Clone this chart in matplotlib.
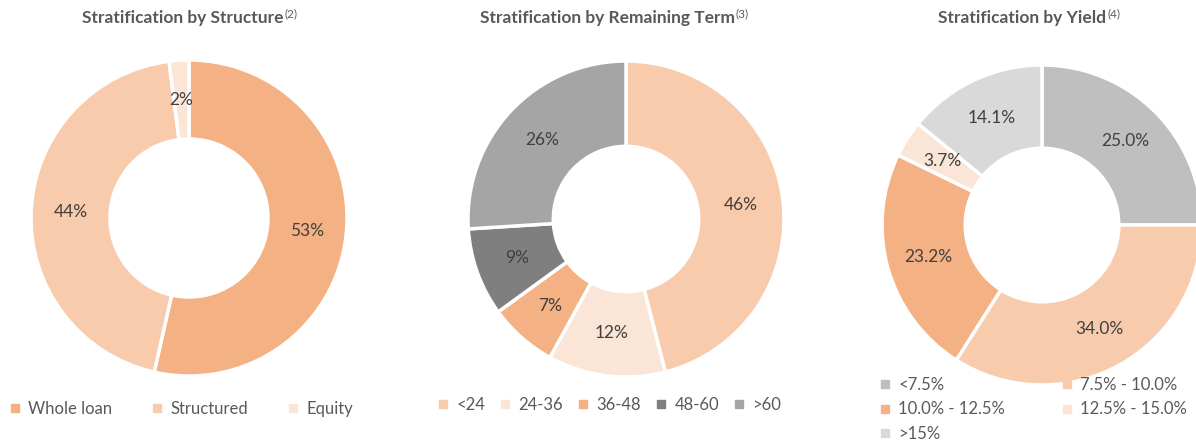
import matplotlib
matplotlib.use("Agg")
import matplotlib.pyplot as plt
from matplotlib.lines import Line2D
import numpy as np

# Data
structure_labels = ["Whole loan", "Structured", "Equity"]
structure_values = [53, 44, 2]
structure_text = ["53%", "44%", "2%"]
structure_colors = ["#F4B183", "#F8CBAD", "#FBE5D6"]

term_labels = ["<24", "24-36", "36-48", "48-60", ">60"]
term_values = [46, 12, 7, 9, 26]
term_text = ["46%", "12%", "7%", "9%", "26%"]
term_colors = ["#F8CBAD", "#FBE5D6", "#F4B183", "#7F7F7F", "#A5A5A5"]

yield_labels = ["<7.5%", "7.5% - 10.0%", "10.0% - 12.5%", "12.5% - 15.0%", ">15%"]
yield_values = [25.0, 34.0, 23.2, 3.7, 14.1]
yield_text = ["25.0%", "34.0%", "23.2%", "3.7%", "14.1%"]
yield_colors = ["#BFBFBF", "#F8CBAD", "#F4B183", "#FBE5D6", "#D9D9D9"]

W, H = 1196, 441
TXT = "#595959"
plt.rcParams['font.family'] = ['Lato', 'DejaVu Sans']

fig = plt.figure(figsize=(W / 100, H / 100), dpi=100)


def donut(cx, cy, r, values, texts, colors, hole):
    ax = fig.add_axes([(cx - r) / W, (H - cy - r) / H, 2 * r / W, 2 * r / H])
    wedges, _ = ax.pie(values, colors=colors, startangle=90, counterclock=False,
                       radius=1, wedgeprops=dict(width=1 - hole, edgecolor="white", linewidth=2.5))
    # labels at the middle of the ring
    for w, t in zip(wedges, texts):
        ang = np.deg2rad((w.theta1 + w.theta2) / 2)
        rr = (1 + hole) / 2
        ax.text(rr * np.cos(ang), rr * np.sin(ang), t, ha="center", va="center",
                fontsize=12.5, color="#404040")
    ax.set_xlim(-1, 1)
    ax.set_ylim(-1, 1)
    ax.axis("off")
    return ax


def title(cx, cy, main, sup):
    t = fig.text(cx / W, 1 - cy / H, main, ha="center", va="center",
                 fontsize=12.5, fontweight="bold", color=TXT)
    fig.canvas.draw()
    bb = t.get_window_extent(renderer=fig.canvas.get_renderer())
    fig.text(bb.x1 / W + 0.001, 1 - (cy - 4) / H, sup, ha="left", va="center",
             fontsize=8.5, color=TXT)


def legend(labels, colors, x, y, ncol, colsp, lsp=0.35, order=None):
    handles = [Line2D([], [], marker="s", linestyle="", markersize=6,
                      markerfacecolor=c, markeredgecolor=c) for c in colors]
    if order is not None:
        handles = [handles[i] for i in order]
        labels = [labels[i] for i in order]
    fig.legend(handles, labels, loc="upper left", bbox_to_anchor=(x / W, 1 - y / H),
               ncol=ncol, frameon=False, fontsize=12, labelcolor=TXT,
               handlelength=0.6, handletextpad=0.5, columnspacing=colsp,
               labelspacing=lsp, borderpad=0, borderaxespad=0)


donut(189, 218, 158, structure_values, structure_text, structure_colors, 0.5)
donut(626, 219, 158, term_values, term_text, term_colors, 0.46)
donut(1042, 225, 160, yield_values, yield_text, yield_colors, 0.48)

title(183, 18, "Stratification by Structure", "(2)")
title(607, 18, "Stratification by Remaining Term", "(3)")
title(1022, 18, "Stratification by Yield", "(4)")

legend(structure_labels, structure_colors, 10, 401, 3, 2.4)
legend(term_labels, term_colors, 438, 397, 5, 0.9)
legend(yield_labels, yield_colors, 880, 377, 2, 3.4, lsp=0.5, order=[0, 2, 4, 1, 3])

fig.savefig("out.png", dpi=100)
